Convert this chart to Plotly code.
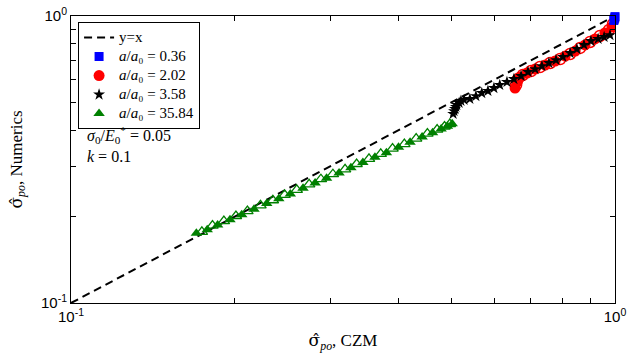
import plotly.graph_objects as go

# --- data -------------------------------------------------------------
# a/a0 = 35.84 (green triangles); filled and open markers alternate
green_x = [0.170, 0.174, 0.178, 0.182, 0.186, 0.191, 0.196, 0.201, 0.206, 0.211,
           0.217, 0.223, 0.229, 0.235, 0.241, 0.247, 0.253, 0.260, 0.267, 0.274,
           0.281, 0.288, 0.295, 0.303, 0.311, 0.319, 0.327, 0.335, 0.344, 0.353,
           0.362, 0.371, 0.380, 0.390, 0.400, 0.410, 0.420, 0.431, 0.442, 0.452,
           0.462, 0.471, 0.479, 0.486, 0.492, 0.497, 0.502]
green_y = [0.175, 0.177, 0.180, 0.186, 0.187, 0.193, 0.195, 0.201, 0.203, 0.209,
           0.212, 0.219, 0.222, 0.228, 0.231, 0.238, 0.240, 0.248, 0.251, 0.259,
           0.262, 0.270, 0.272, 0.281, 0.284, 0.292, 0.296, 0.305, 0.309, 0.318,
           0.322, 0.331, 0.334, 0.345, 0.349, 0.358, 0.363, 0.374, 0.379, 0.389,
           0.392, 0.402, 0.404, 0.412, 0.413, 0.420, 0.421]

# a/a0 = 3.58 (black stars)
star_x = [0.504, 0.506, 0.508, 0.510, 0.512, 0.517, 0.521, 0.528, 0.541, 0.555,
          0.569, 0.584, 0.599, 0.614, 0.633, 0.652, 0.672, 0.692, 0.713, 0.734,
          0.756, 0.779, 0.802, 0.827, 0.851, 0.877, 0.903, 0.931, 0.955, 0.979]
star_y = [0.456, 0.466, 0.474, 0.482, 0.490, 0.498, 0.506, 0.510, 0.514, 0.526,
          0.539, 0.548, 0.561, 0.575, 0.589, 0.603, 0.618, 0.638, 0.653, 0.669,
          0.686, 0.702, 0.720, 0.743, 0.767, 0.793, 0.818, 0.832, 0.845, 0.858]

# a/a0 = 2.02 (red circles)
red_x = [0.655, 0.658, 0.661, 0.663, 0.669, 0.677, 0.689, 0.701, 0.713, 0.728,
         0.744, 0.760, 0.776, 0.793, 0.810, 0.827, 0.845, 0.863, 0.881, 0.900,
         0.919, 0.938, 0.958, 0.975, 0.987, 0.992]
red_y = [0.561, 0.575, 0.589, 0.603, 0.613, 0.623, 0.633, 0.643, 0.653, 0.664,
         0.675, 0.686, 0.697, 0.708, 0.725, 0.737, 0.755, 0.774, 0.793, 0.812,
         0.832, 0.852, 0.873, 0.894, 0.916, 0.938]

# a/a0 = 0.36 (blue squares)
blue_x = [0.995, 0.997, 0.999, 1.000]
blue_y = [0.965, 0.975, 0.985, 0.995]

legend_labels = ["0.36", "2.02", "3.58", "35.84"]
diag = [0.1, 1.0]

GREEN = "#008000"
RED = "#ff0000"
BLUE = "#0000ff"
SERIF = "Liberation Serif"
SANS = "Liberation Sans"


def big(s):
    # legend rows stay compact (legend font 12) while the label itself is drawn larger
    return f'<span style="font-size:15px">{s}</span>'


def lab(v):
    return big(f"<i>a</i>/<i>a</i>₀ = {v}")


SIGMA_HAT = '<span style="font-family:DejaVu Serif">σ̂</span>'

fig = go.Figure()

# reference line y = x
fig.add_trace(go.Scatter(x=diag, y=diag, mode="lines", name=big("y=x"),
                         line=dict(color="black", width=2, dash="8px,5px"),
                         legendrank=1))

# red circles: filled and open alternate
fig.add_trace(go.Scatter(x=red_x[0::2], y=red_y[0::2], mode="markers", name=lab(legend_labels[1]),
                         marker=dict(symbol="circle", size=11, color=RED, line=dict(width=0)),
                         legendrank=3))
fig.add_trace(go.Scatter(x=red_x[1::2], y=red_y[1::2], mode="markers", showlegend=False,
                         marker=dict(symbol="circle-open", size=11, color=RED, line=dict(width=1.5))))

# black stars
fig.add_trace(go.Scatter(x=star_x, y=star_y, mode="markers", name=lab(legend_labels[2]),
                         marker=dict(symbol="star", size=9, color="black", line=dict(width=0)),
                         legendrank=4))

# green triangles: filled and open alternate
fig.add_trace(go.Scatter(x=green_x[0::2], y=green_y[0::2], mode="markers", name=lab(legend_labels[3]),
                         marker=dict(symbol="triangle-up", size=10, color=GREEN, line=dict(width=0)),
                         legendrank=5))
fig.add_trace(go.Scatter(x=green_x[1::2], y=green_y[1::2], mode="markers", showlegend=False,
                         marker=dict(symbol="triangle-up-open", size=10, color=GREEN, line=dict(width=1.3))))

# blue squares
fig.add_trace(go.Scatter(x=blue_x, y=blue_y, mode="markers", name=lab(legend_labels[0]),
                         marker=dict(symbol="square", size=9, color=BLUE, line=dict(width=0)),
                         cliponaxis=False, legendrank=2))

ticks = [0.1, 0.2, 0.3, 0.4, 0.5, 0.6, 0.7, 0.8, 0.9, 1.0]
ticktext = ["10<sup>-1</sup>"] + [""] * 8 + ["10<sup>0</sup>"]

axis_common = dict(type="log", range=[-1, 0], tickmode="array", tickvals=ticks, ticktext=ticktext,
                   ticks="inside", ticklen=5, tickwidth=1, tickcolor="black",
                   showline=True, linecolor="black", linewidth=1, mirror="ticks",
                   showgrid=False, zeroline=False, automargin=False,
                   tickfont=dict(family=SANS, size=15, color="black"))

fig.update_layout(
    width=627, height=360,
    margin=dict(l=71, r=12, t=16, b=57),
    plot_bgcolor="white", paper_bgcolor="white",
    xaxis=dict(**axis_common,
               title=dict(text=f"{SIGMA_HAT}<sub><i>po</i></sub>, CZM",
                          font=dict(family=SERIF, size=17, color="black"), standoff=10)),
    yaxis=dict(**axis_common,
               title=dict(text=f"{SIGMA_HAT}<sub><i>po</i></sub>, Numerics",
                          font=dict(family=SERIF, size=17, color="black"), standoff=14)),
    legend=dict(x=0.013, y=0.979, xanchor="left", yanchor="top",
                bgcolor="white", bordercolor="black", borderwidth=1,
                font=dict(family=SERIF, size=12, color="black"),
                tracegroupgap=0, itemwidth=30),
    showlegend=True,
    annotations=[
        dict(x=0.025, y=0.585, xref="paper", yref="paper", xanchor="left", yanchor="middle",
             showarrow=False,
             text="<i>σ</i><sub>0</sub>/<i>E</i><sub>0</sub><sup>*</sup> = 0.05",
             font=dict(family=SERIF, size=16, color="black")),
        dict(x=0.025, y=0.512, xref="paper", yref="paper", xanchor="left", yanchor="middle",
             showarrow=False, text="<i>k</i> = 0.1",
             font=dict(family=SERIF, size=16, color="black")),
    ],
)

fig.write_html("out.html")
